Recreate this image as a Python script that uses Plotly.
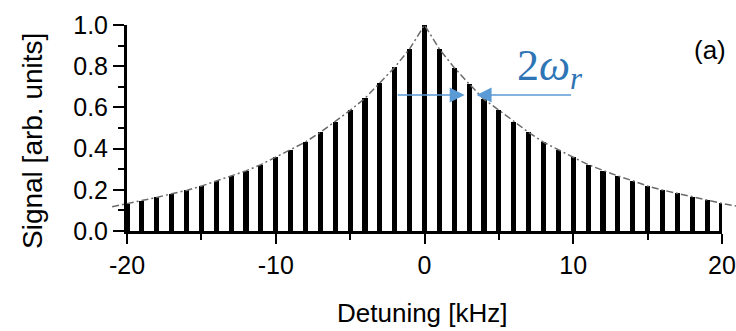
import plotly.graph_objects as go

# ---- data ----
detuning = list(range(-20, 21))
signal = [0.133, 0.147, 0.163, 0.181, 0.197, 0.218, 0.243, 0.265, 0.292, 0.322,
          0.359, 0.393, 0.432, 0.479, 0.531, 0.586, 0.644, 0.718, 0.795, 0.884,
          1.000,
          0.883, 0.793, 0.714, 0.639, 0.587, 0.531, 0.479, 0.431, 0.393, 0.358,
          0.322, 0.293, 0.267, 0.244, 0.218, 0.199, 0.183, 0.164, 0.150, 0.134]
env_x = [-21] + detuning + [21]
env_y = [0.118] + signal + [0.120]
x_ticks = [-20, -10, 0, 10, 20]
y_ticks = [0.0, 0.2, 0.4, 0.6, 0.8, 1.0]

W, H = 736, 331
ML, MR, MT, MB = 112, 0, 20, 100
PW, PH = W - ML - MR, H - MT - MB
X0, X1 = 127, 722   # pixel of -20 and 20
Y0, Y1 = 231, 25    # pixel of 0 and 1
kpx = (X1 - X0) / 40.0
vpx = (Y0 - Y1) / 1.0


def px(xp):
    return (xp - ML) / PW


def py(yp):
    return (H - MB - yp) / PH


font = "Liberation Sans, Arial, Helvetica, sans-serif"

fig = go.Figure()
fig.add_trace(go.Bar(x=detuning, y=signal, width=0.34, marker=dict(color="black", line=dict(width=0)),
                     xaxis="x", yaxis="y", showlegend=False))
fig.add_trace(go.Scatter(x=env_x, y=env_y, mode="lines", xaxis="x2", yaxis="y2",
                         line=dict(color="#6a6a6a", width=1.5, dash="7px,3px,2px,3px"),
                         showlegend=False))

fig.update_layout(
    width=W, height=H,
    margin=dict(l=ML, r=MR, t=MT, b=MB, autoexpand=False),
    paper_bgcolor="white", plot_bgcolor="rgba(0,0,0,0)",
    font=dict(family=font, color="black"),
    bargap=0,
    xaxis=dict(domain=[px(X0), px(X1)], range=[-20, 20], anchor="y", automargin=False,
               showline=True, linewidth=3, linecolor="black", showgrid=False, zeroline=False,
               tickmode="array", tickvals=x_ticks, ticktext=[str(v) for v in x_ticks],
               ticks="outside", ticklen=10, tickwidth=2, tickcolor="black",
               minor=dict(dtick=5, ticks="outside", ticklen=6, tickwidth=2, tickcolor="black", showgrid=False),
               tickfont=dict(size=25, family=font)),
    yaxis=dict(domain=[py(Y0), py(Y1)], range=[0, 1], anchor="x", automargin=False,
               showline=True, linewidth=3, linecolor="black", showgrid=False, zeroline=False,
               tickmode="array", tickvals=y_ticks, tickformat=".1f",
               ticks="outside", ticklen=11, tickwidth=2, tickcolor="black",
               minor=dict(dtick=0.1, ticks="outside", ticklen=6, tickwidth=2, tickcolor="black", showgrid=False),
               tickfont=dict(size=25, family=font)),
    xaxis2=dict(domain=[0, 1], range=[-20 - (X0 - ML) / kpx, 20 + (W - MR - X1) / kpx],
                anchor="y2", visible=False, automargin=False),
    yaxis2=dict(domain=[0, 1], range=[0, (Y0 - MT) / vpx], anchor="x2", visible=False, automargin=False),
)

anns = [
    dict(text="Signal [arb. units]", x=px(32), y=py(141), textangle=-90,
         font=dict(size=28, family=font)),
    dict(text="Detuning [kHz]", x=px(422), y=py(313), font=dict(size=26, family=font)),
    dict(text="(a)", x=px(710), y=py(50), font=dict(size=26, family=font)),
    dict(text="2<i>ω</i><sub><i>r</i></sub>", x=px(550), y=py(68),
         font=dict(size=44, family="Liberation Serif, DejaVu Serif, serif", color="#2e75b6")),
]
for a in anns:
    fig.add_annotation(xref="paper", yref="paper", showarrow=False,
                       xanchor="center", yanchor="middle", **a)

arrow_y = (Y0 - 95) / vpx
for tail, head in [(-1.9, 2.7), (9.95, 3.5)]:
    fig.add_annotation(x=head, y=arrow_y, ax=tail, ay=arrow_y, xref="x", yref="y",
                       axref="x", ayref="y", text="", showarrow=True,
                       arrowhead=2, arrowsize=2, arrowwidth=1.5, arrowcolor="#5b9bd5")

fig.write_html("out.html")
